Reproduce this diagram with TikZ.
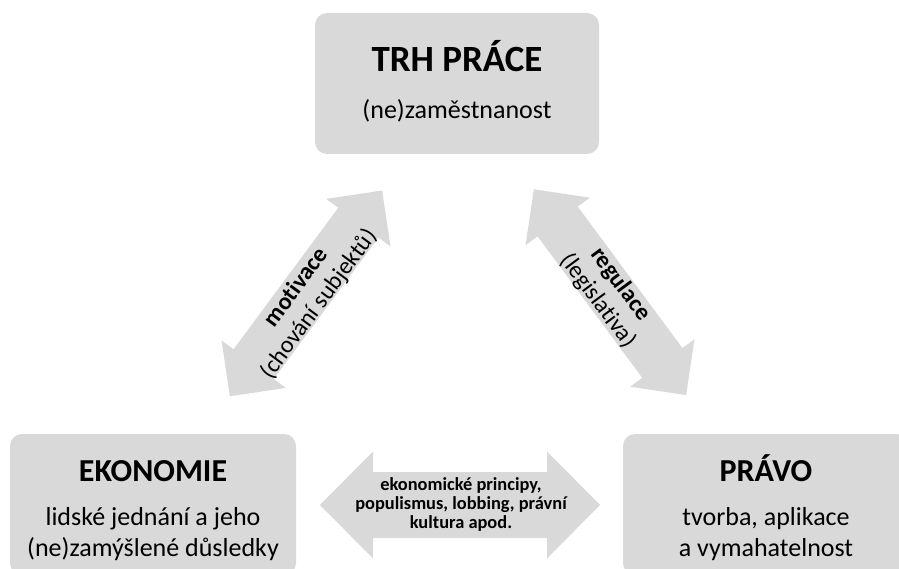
\documentclass[tikz,border=0pt]{standalone}
\usepackage{fontspec}
\setmainfont{Carlito}[Ligatures=NoCommon]
\usepackage{tikz}
\usetikzlibrary{calc}

\definecolor{boxgray}{HTML}{D9D9D9}

\begin{document}
\begin{tikzpicture}[x=1pt, y=1pt,
    box/.style={fill=boxgray, rounded corners=12pt, minimum width=286pt, minimum height=141pt, inner sep=0pt},
    ttl/.style={font=\fontsize{32}{38}\selectfont\bfseries, anchor=base},
    txt/.style={font=\fontsize{26}{31}\selectfont, anchor=base, align=center},
    lbl/.style={font=\fontsize{24}{28}\selectfont, align=center},
    mid/.style={font=\fontsize{18.4}{19}\selectfont\bfseries, anchor=base, align=center}]
    \useasboundingbox (0,0) rectangle (899,568);

    % Labour market on top
    \node[box, minimum width=284pt] (trh) at (457,484.5) {};
    \node[ttl, font=\fontsize{37}{42}\selectfont\bfseries] (trhT) at (457,496.3) {TRH PRÁCE};
    \node[txt] (trhD) at (457,449) {(ne)zaměstnanost};

    % Economy and law at the bottom (base = last line)
    \node[box] (eko) at (153,63.5) {};
    \node[ttl] (ekoT) at (153,86.3) {EKONOMIE};
    \node[txt] (ekoD) at (153,12) {lidské jednání a jeho\\(ne)zamýšlené důsledky};

    \node[box] (pravo) at (766,63.5) {};
    \node[ttl] (pravoT) at (766,86.3) {PRÁVO};
    \node[txt] (pravoD) at (766,12) {tvorba, aplikace\\a vymahatelnost};

    % Fat double arrows between the areas
    \fill[boxgray] (320,63) -- (373,116.5) -- (373,96) -- (547,96) -- (547,116.5) -- (600,63)
        -- (547,9.5) -- (547,30) -- (373,30) -- (373,9.5) -- cycle;
    \node[mid] (vazby) at (461,39.7) {ekonomické principy,\\populismus, lobbing, právní\\kultura apod.};

    \begin{scope}[shift={(306,274.6)}, rotate=53.5]
        \fill[boxgray] (-128,0) -- (-88,40) -- (-88,25) -- (88,25) -- (88,40) -- (128,0)
            -- (88,-40) -- (88,-25) -- (-88,-25) -- (-88,-40) -- cycle;
    \end{scope}
    \node[lbl, rotate=53.5] (motiv) at (308,272) {\textbf{motivace}\\(chování subjektů)};

    \begin{scope}[shift={(610,275.8)}, rotate=-53.5]
        \fill[boxgray] (-128,0) -- (-88,40) -- (-88,25) -- (88,25) -- (88,40) -- (128,0)
            -- (88,-40) -- (88,-25) -- (-88,-25) -- (-88,-40) -- cycle;
    \end{scope}
    \node[lbl, rotate=-53.5] (regul) at (609,275.5) {\textbf{regulace}\\(legislativa)};
\end{tikzpicture}
\end{document}
